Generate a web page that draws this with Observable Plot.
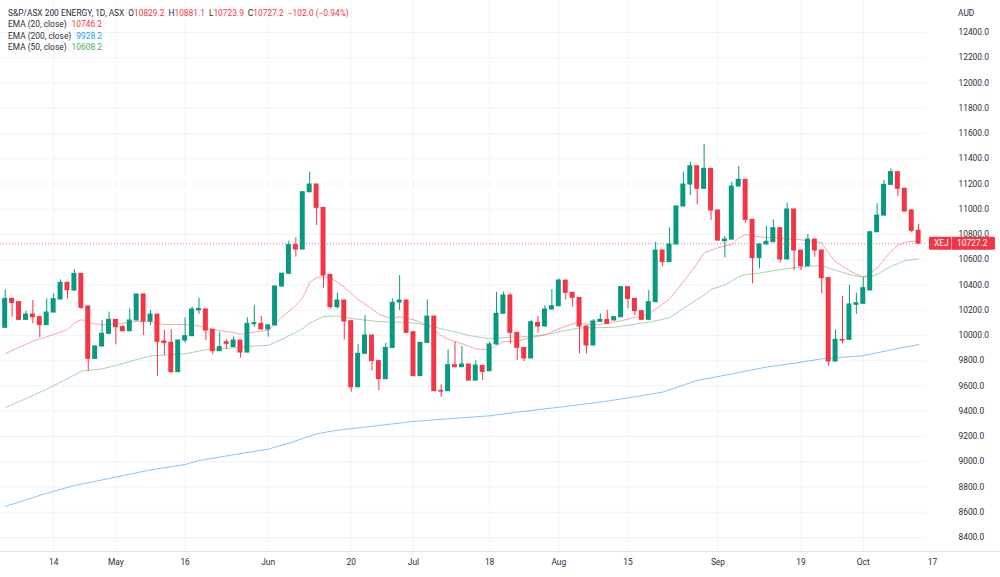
<!DOCTYPE html>
<html><head><meta charset="utf-8">
<script src="https://cdn.jsdelivr.net/npm/d3@7"></script>
<script src="https://cdn.jsdelivr.net/npm/@observablehq/plot@0.6"></script>
<style>
html,body{margin:0;padding:0;background:#fff;}
#chart{width:1000px;height:577px;}
</style></head>
<body><div id="chart"></div>
<script>
// ---- trading days (ASX, 2022) ----
const aprDays = [5,6,7,8,11,12,13,14,19,20,21,22,26,27,28,29];
const mayDays = [2,3,4,5,6,9,10,11,12,13,16,17,18,19,20,23,24,25,26,27,30,31];
const junDays = [1,2,3,6,7,8,9,10,14,15,16,17,20,21,22,23,24,27,28,29,30];
const julDays = [1,4,5,6,7,8,11,12,13,14,15,18,19,20,21,22,25,26,27,28,29];
const augDays = [1,2,3,4,5,8,9,10,11,12,15,16,17,18,19,22,23,24,25,26,29,30,31];
const sepDays = [1,2,5,6,7,8,9,12,13,14,15,16,19,20,21,23,26,27,28,29,30];
const octDays = [3,4,5,6,7,10,11,12,13];
const futureDates = ["2022-10-14","2022-10-17"];

// ---- OHLC ----
const opens = [10061,10290,10264,10124,10166,10145,10082,10182,10285,10417,
 10356,10488,10230,9815,9913,10013,10124,10066,10034,10119,
 10325,10111,10166,9953,9942,9710,9960,9995,10200,10206,
 10045,9876,9947,9908,9960,9865,10090,10092,10048,10080,
 10388,10489,10716,10681,11135,11196,11011,10480,10224,10277,
 10113,9590,9855,10000,9797,9654,9902,10261,10277,10026,
 9678,9942,10150,9562,9559,9765,9749,9770,9643,9760,
 9717,9929,10172,10317,10021,9902,9818,10100,10071,10206,
 10232,10435,10338,10298,10071,9921,10108,10124,10119,10145,
 10383,10290,10193,10124,10264,10673,10581,10721,11022,11196,
 11341,11162,11320,10990,10747,10760,11180,11233,10916,10613,
 10721,10739,10850,10602,10998,10673,10549,10760,10673,10454,
 9794,9965,9966,10243,10251,10357,10818,10950,11193,11294,
 11162,10990,10829.2];
const highs = [10362,10297,10264,10190,10277,10150,10290,10330,10441,10422,
 10522,10490,10232,9920,10119,10185,10126,10080,10211,10328,
 10327,10198,10168,10040,10045,9965,10140,10225,10296,10210,
 10048,10024,9966,9987,9962,10140,10238,10151,10085,10393,
 10495,10747,10774,11140,11294,11198,11013,10485,10335,10280,
 10116,9929,10158,10003,9800,9939,10290,10475,10280,10029,
 9945,10282,10152,9609,9886,9947,9913,9773,9800,9763,
 9947,10343,10343,10330,10024,9905,10118,10150,10237,10364,
 10449,10438,10340,10300,10074,10127,10172,10198,10150,10388,
 10386,10293,10196,10356,10739,10676,10853,11025,11294,11373,
 11344,11513,11323,10993,10784,11215,11338,11236,10919,10726,
 10866,10916,10853,11048,11001,10676,10800,10763,10676,10457,
 10045,10309,10396,10335,10457,10822,11043,11228,11320,11297,
 11165,10995,10881.1];
const lows = [10055,10145,10118,10120,10092,9981,10078,10180,10280,10290,
 10350,10206,9715,9812,9910,10010,9926,10026,10030,10115,
 10000,10080,9675,9842,9697,9705,9940,9990,10167,9960,
 9847,9872,9889,9905,9821,9862,10066,10045,9987,10075,
 10383,10485,10621,10678,11130,10871,10375,10211,10210,9966,
 9551,9587,9852,9717,9564,9650,9898,10198,10018,9675,
 9675,9938,9555,9511,9555,9745,9745,9640,9640,9643,
 9713,9925,10168,9934,9802,9794,9815,10018,10068,10202,
 10228,10282,10224,9855,9855,9918,10104,10088,10115,10142,
 10211,10159,10118,10120,10260,10547,10578,10718,11018,11109,
 11035,11158,10911,10748,10615,10756,11176,10890,10409,10528,
 10718,10735,10576,10598,10515,10515,10545,10620,10330,9755,
 9790,9934,9962,10166,10247,10353,10815,10946,11190,11101,
 10980,10815,10723.9];
const closes = [10290,10258,10124,10166,10145,10082,10182,10288,10417,10359,
 10488,10219,9815,9913,10013,10124,10066,10034,10119,10325,
 10111,10166,9950,9940,9710,9960,9995,10206,10210,10040,
 9876,9908,9934,9960,9865,10092,10098,10048,10080,10388,
 10489,10716,10681,11135,11196,11011,10475,10224,10277,10111,
 9590,9855,10000,9797,9654,9902,10259,10277,10021,9678,
 9942,10150,9559,9556,9765,9749,9770,9643,9762,9712,
 9929,10172,10317,10021,9902,9818,10105,10071,10206,10232,
 10435,10338,10298,10071,9921,10111,10124,10092,10145,10383,
 10290,10193,10124,10264,10673,10581,10721,11022,11196,11341,
 11162,11320,10990,10752,10760,11180,11233,10916,10613,10721,
 10742,10850,10602,10998,10673,10549,10760,10673,10454,9794,
 9966,9960,10246,10256,10375,10818,10950,11193,11294,11162,
 10982,10829.2,10727.2];

// ---- EMA readings (bar index -> value) ----
const ema20Idx = [0,2,4,6,9,10,11,12,14,16,19,21,23,26,28,31,33,34,35,38,
 39,40,42,43,44,45,46,47,48,50,51,53,54,56,57,59,60,61,62,63,64,
 66,68,70,72,74,76,78,80,82,83,85,86,88,91,93,96,98,100,101,103,
 105,106,107,109,110,112,115,118,119,120,122,124,125,126,127,128,129,130,131,132];
const ema20Val = [9855,9907,9955,9990,10045,10100,10125,10102,10084,10092,10111,10110,10087,10087,10075,10038,10024,10010,10019,10042,
 10093,10145,10240,10300,10420,10460,10465,10454,10425,10335,10285,10212,10165,10135,10148,10125,10105,10085,10040,10000,9970,
 9935,9894,9888,9952,9955,9985,10003,10053,10092,10100,10080,10088,10105,10142,10170,10288,10425,10570,10655,10695,
 10722,10772,10800,10782,10778,10772,10758,10735,10650,10585,10512,10460,10493,10536,10600,10666,10713,10738,10746,10746.2];
const ema50Idx = [0,3,6,9,11,14,16,19,21,23,26,29,31,33,35,38,40,42,43,44,
 46,48,50,52,54,57,59,61,63,65,67,70,73,76,79,81,83,85,88,91,
 93,96,99,101,102,104,106,107,109,112,115,118,119,121,123,125,126,128,130,132];
const ema50Val = [9430,9500,9575,9657,9717,9736,9762,9810,9838,9845,9855,9887,9895,9902,9913,9922,9970,10026,10055,10098,
 10150,10155,10135,10122,10110,10105,10098,10084,10053,10030,10000,9975,9987,9993,10015,10040,10060,10061,10065,10090,
 10105,10140,10250,10320,10365,10400,10465,10482,10495,10522,10542,10556,10535,10500,10470,10462,10485,10547,10592,10608.2];
const ema200Idx = [0,6,10,16,21,26,28,33,38,41,45,48,54,59,64,70,74,81,86,90,95,100,105,110,114,118,124,128,132];
const ema200Val = [8646,8751,8812,8878,8936,8978,9010,9055,9100,9147,9221,9250,9287,9319,9340,9364,9393,9438,9472,9506,9551,9644,9696,9750,9780,9815,9840,9886,9928.2];

// ---- axes ----
const tickDates = ["2022-04-14","2022-05-02","2022-05-16","2022-06-01","2022-06-20","2022-07-01","2022-07-18","2022-08-01","2022-08-15","2022-09-01","2022-09-19","2022-10-03","2022-10-17"];
const tickLabels = ["14","May","16","Jun","20","Jul","18","Aug","15","Sep","19","Oct","17"];
const yTicks = [8400,8600,8800,9000,9200,9400,9600,9800,10000,10200,10400,10600,10800,11000,11200,11400,11600,11800,12000,12200,12400];

const symbolTitle = "S&P/ASX 200 ENERGY, 1D, ASX";
const ticker = "XEJ";
const currency = "AUD";

// ---- build ----
const pad = d => String(d).padStart(2, "0");
const dates = [
  ...aprDays.map(d => `2022-04-${pad(d)}`),
  ...mayDays.map(d => `2022-05-${pad(d)}`),
  ...junDays.map(d => `2022-06-${pad(d)}`),
  ...julDays.map(d => `2022-07-${pad(d)}`),
  ...augDays.map(d => `2022-08-${pad(d)}`),
  ...sepDays.map(d => `2022-09-${pad(d)}`),
  ...octDays.map(d => `2022-10-${pad(d)}`)
];
const UP = "#089981", DOWN = "#f23645";
const C20 = "#f23645", C50 = "#4caf50", C200 = "#2196f3";
const TXT = "#2a2e39";
const candles = dates.map((date, i) => ({date, open: opens[i], high: highs[i], low: lows[i], close: closes[i]}));
const series = (idx, val) => idx.map((k, j) => ({date: dates[k], value: val[j]}));

const step = 6.92, firstX = 4.7, paneRight = 926, paneBottom = 551;
const allDates = [...dates, ...futureDates];
const n = allDates.length;
const x0 = firstX - step * 0.36;
const FONT = "Roboto, sans-serif";

const chart = Plot.plot({
  width: 1000, height: 577,
  marginLeft: 0, marginRight: 1000 - paneRight, marginTop: 0, marginBottom: 577 - paneBottom,
  style: {fontFamily: FONT, fontSize: "8.4px", background: "#ffffff", overflow: "visible"},
  x: {type: "band", domain: allDates, range: [x0, x0 + step * (n - 0.28)], paddingInner: 0.28, paddingOuter: 0, align: 0, round: false, axis: null},
  y: {domain: [8400, 12400], range: [537, 32], axis: null},
  color: {type: "identity"},
  marks: [
    Plot.gridY(yTicks, {stroke: "#f0f3fa", strokeOpacity: 1}),
    Plot.gridX(tickDates.filter(d => dates.includes(d)), {stroke: "#f0f3fa", strokeOpacity: 1}),
    Plot.line(series(ema200Idx, ema200Val), {x: "date", y: "value", stroke: C200, strokeOpacity: 0.55, strokeWidth: 1}),
    Plot.line(series(ema50Idx, ema50Val), {x: "date", y: "value", stroke: C50, strokeOpacity: 0.5, strokeWidth: 1}),
    Plot.line(series(ema20Idx, ema20Val), {x: "date", y: "value", stroke: C20, strokeOpacity: 0.45, strokeWidth: 1}),
    Plot.ruleY([closes[closes.length - 1]], {stroke: DOWN, strokeDasharray: "1,2", strokeOpacity: 0.65}),
    Plot.ruleX(candles, {x: "date", y1: "low", y2: "high", stroke: d => d.close >= d.open ? UP : DOWN, strokeWidth: 1}),
    Plot.barY(candles, {x: "date", y1: "open", y2: "close", fill: d => d.close >= d.open ? UP : DOWN, insetTop: -0.5, insetBottom: -0.5}),
    Plot.text(yTicks, {y: d => d, text: d => d.toFixed(1), frameAnchor: "right", dx: 32, textAnchor: "start", fill: TXT}),
    Plot.text(tickDates, {x: d => d, text: (d, i) => tickLabels[i], frameAnchor: "bottom", dy: 13, fill: TXT})
  ]
});
document.getElementById("chart").appendChild(chart);

// ---- overlays: border, header legend, price tag ----
const svg = d3.select(chart);
const yS = chart.scale("y");
svg.append("line").attr("x1", 0).attr("x2", 1000).attr("y1", paneBottom + 0.5).attr("y2", paneBottom + 0.5)
  .attr("stroke", "#e0e3eb");

const last = candles[candles.length - 1];
const prevClose = closes[closes.length - 2];
const valColor = last.close >= last.open ? UP : DOWN;
const sign = v => (v < 0 ? "\u2212" : "");
const fmt = v => sign(v) + Math.abs(v).toFixed(1);
const chg = last.close - prevClose;
const pct = chg / prevClose * 100;

const hdr = svg.append("g").attr("font-family", FONT).attr("font-size", "8.4px").attr("text-anchor", "start");
const t1 = hdr.append("text").attr("x", 8).attr("y", 15.7).attr("fill", TXT);
t1.append("tspan").text(symbolTitle);
[["O", last.open], ["H", last.high], ["L", last.low], ["C", last.close]].forEach(([k, v]) => {
  t1.append("tspan").attr("dx", 4).text(k);
  t1.append("tspan").attr("fill", valColor).text(fmt(v));
});
t1.append("tspan").attr("dx", 4).attr("fill", valColor)
  .text(`${fmt(chg)} (${sign(pct)}${Math.abs(pct).toFixed(2)}%)`);

const emaRows = [
  ["EMA (20, close)", ema20Val[ema20Val.length - 1], C20],
  ["EMA (200, close)", ema200Val[ema200Val.length - 1], C200],
  ["EMA (50, close)", ema50Val[ema50Val.length - 1], C50]
];
emaRows.forEach(([label, v, c], i) => {
  const t = hdr.append("text").attr("x", 8).attr("y", 27.3 + i * 11.4).attr("fill", TXT);
  t.append("tspan").text(label);
  t.append("tspan").attr("dx", 5).attr("fill", c).text(v.toFixed(1));
});

svg.append("text").attr("x", 958).attr("y", 15.5).attr("font-family", FONT).attr("font-size", "8.4px")
  .attr("text-anchor", "start").attr("fill", TXT).text(currency);

const yl = yS.apply(last.close);
const tag = svg.append("g").attr("font-family", FONT).attr("font-size", "8.4px").attr("text-anchor", "start");
tag.append("rect").attr("x", 929).attr("y", yl - 6.5).attr("width", 66).attr("height", 13).attr("rx", 1).attr("fill", DOWN);
tag.append("line").attr("x1", 951.5).attr("x2", 951.5).attr("y1", yl - 6.5).attr("y2", yl + 6.5).attr("stroke", "#ffffff").attr("stroke-opacity", 0.5);
tag.append("text").attr("x", 934).attr("y", yl + 3).attr("fill", "#fff").text(ticker);
tag.append("text").attr("x", 957).attr("y", yl + 3).attr("fill", "#fff").text(last.close.toFixed(1));
</script>
</body></html>
